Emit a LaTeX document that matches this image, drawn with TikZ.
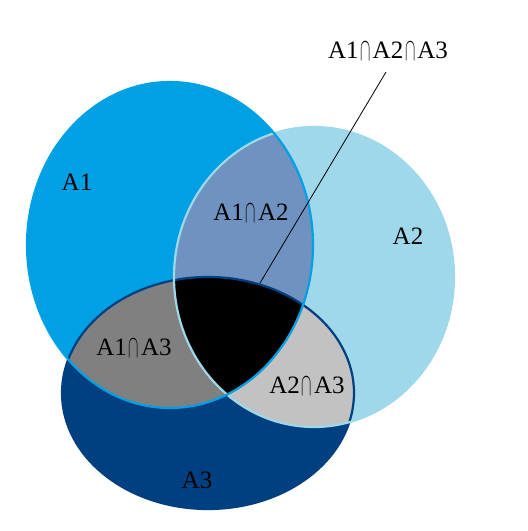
\documentclass[tikz,border=0pt]{standalone}
\usepackage{fontspec}
\setmainfont{Liberation Serif}
\usetikzlibrary{positioning}

\definecolor{setone}{RGB}{0,160,228}
\definecolor{settwo}{RGB}{158,216,234}
\definecolor{setthree}{RGB}{0,64,128}
\definecolor{onetwo}{RGB}{112,146,192}
\definecolor{onethree}{RGB}{128,128,128}
\definecolor{twothree}{RGB}{194,194,194}

% tall narrow intersection sign
\newcommand{\inter}{\makebox[0.56em]{\raisebox{-0.09em}{\scalebox{0.62}[1.3]{$\cap$}}}}

\begin{document}
\begin{tikzpicture}[
        x=1pt, y=-1pt,
        lbl/.style={font=\fontsize{25}{29}\selectfont, inner sep=0pt, text=black},
        rim/.style={line width=2.2pt}
    ]
        \useasboundingbox (0,0) rectangle (528,531);

        % Sets
        \fill[setone] (170,245) ellipse [x radius=143, y radius=163];
        \fill[settwo] (314,277) ellipse [x radius=140, y radius=150];
        \fill[setthree] (208,393) ellipse [x radius=146, y radius=116];

        % A2 and A3
        \begin{scope}
            \clip (314,277) ellipse [x radius=140, y radius=150];
            \fill[twothree] (208,393) ellipse [x radius=146, y radius=116];
        \end{scope}

        % A1 with the others
        \begin{scope}
            \clip (170,245) ellipse [x radius=143, y radius=163];
            \fill[onetwo] (314,277) ellipse [x radius=140, y radius=150];
            \fill[onethree] (208,393) ellipse [x radius=146, y radius=116];
            \clip (314,277) ellipse [x radius=140, y radius=150];
            \fill[black] (208,393) ellipse [x radius=146, y radius=116];
        \end{scope}

        % Outlines
        \draw[rim, setthree] (208,393) ellipse [x radius=146, y radius=116];
        \draw[rim, settwo] (314,277) ellipse [x radius=140, y radius=150];
        \draw[rim, setone] (170,245) ellipse [x radius=143, y radius=163];

        % Labels
        \node[lbl] (a1) at (77,182) {A1};
        \node[lbl] (a2) at (408,236) {A2};
        \node[lbl] (a3) at (197,480) {A3};
        \node[lbl] (a12) at (251,213) {A1\inter A2};
        \node[lbl] (a13) at (134,348) {A1\inter A3};
        \node[lbl] (a23) at (307,386) {A2\inter A3};
        \node[lbl] (a123) at (388,51) {A1\inter A2\inter A3};

        % Pointer
        \coordinate (top) at (386,72);
        \coordinate (tip) at (260,283);
        \draw[line width=0.8pt] (top) -- (tip);
    \end{tikzpicture}
\end{document}
